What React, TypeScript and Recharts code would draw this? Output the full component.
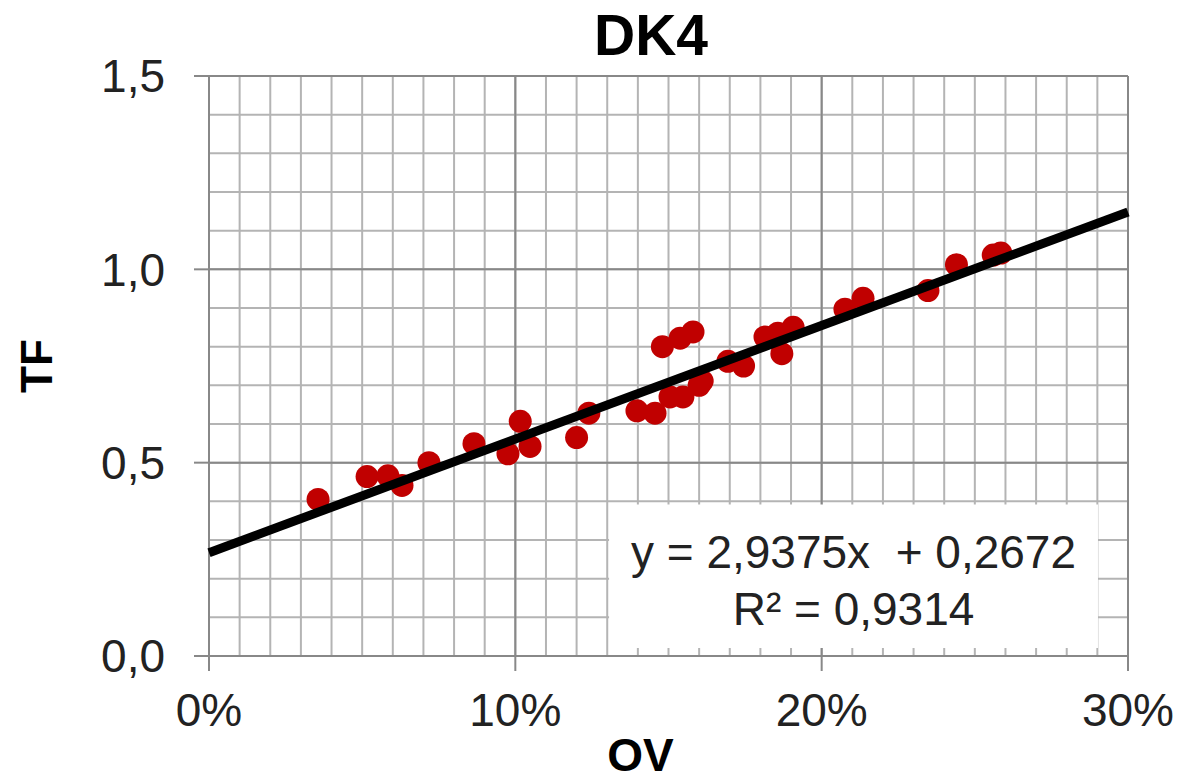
import React from 'react';
import {
  ScatterChart,
  Scatter,
  XAxis,
  YAxis,
  CartesianGrid,
  ReferenceArea,
  Customized
} from 'recharts';

// OV (fraction) and TF readings, one per point
const ovValues = [
  0.0356, 0.0516, 0.0584, 0.063, 0.0718, 0.0865, 0.0976, 0.1016, 0.1048,
  0.12, 0.124, 0.1397, 0.1456, 0.148, 0.1538, 0.158, 0.1505, 0.1547, 0.16,
  0.161, 0.1694, 0.1745, 0.1815, 0.187, 0.1857, 0.1907, 0.2076, 0.2135,
  0.2347, 0.244, 0.256, 0.2585
];
const tfValues = [
  0.405, 0.464, 0.466, 0.441, 0.5, 0.549, 0.523, 0.607, 0.542,
  0.565, 0.628, 0.634, 0.628, 0.8, 0.822, 0.838, 0.67, 0.67, 0.7,
  0.711, 0.762, 0.75, 0.825, 0.782, 0.835, 0.85, 0.897, 0.925,
  0.945, 1.012, 1.037, 1.042
];

// trend line ends, as printed by the fit y = 2,9375x + 0,2672
const trendX = [0, 0.3];
const trendY = [0.2672, 1.1485];
const equationLines = ['y = 2,9375x  + 0,2672', 'R² = 0,9314'];

const xTicks = [0, 0.1, 0.2, 0.3];
const yTicks = [0, 0.5, 1.0, 1.5];
const xMinor = Array.from({ length: 31 }, (_, i) => i / 100);
const yMinor = Array.from({ length: 16 }, (_, i) => i / 10);

const points = ovValues.map((ov, i) => ({ ov, tf: tfValues[i] }));
const trend = trendX.map((ov, i) => ({ ov, tf: trendY[i] }));

const FONT = '"Liberation Sans", Arial, sans-serif';
const GRID_MINOR = '#b4b4b4';
const GRID_MAJOR = '#888888';
const TEXT = '#222222';

const Dot = (props: any) => (
  <circle cx={props.cx} cy={props.cy} r={11.5} fill="#c00000" />
);
const NoDot = () => <g />;

export default function App() {
  return (
    <div style={{ position: 'absolute', left: 0, top: 0, background: '#fff' }}>
      <ScatterChart
        width={1183}
        height={783}
        margin={{ top: 76, right: 55, bottom: 0, left: 0 }}
        style={{ fontFamily: FONT }}
      >
        <CartesianGrid
          stroke={GRID_MINOR}
          strokeWidth={2}
          horizontalValues={yMinor}
          verticalValues={xMinor}
        />
        <CartesianGrid
          stroke={GRID_MAJOR}
          strokeWidth={2}
          fill="none"
          horizontalValues={[0.5, 1.0, 1.5]}
          verticalValues={[0.1, 0.2, 0.3]}
        />
        <XAxis
          type="number"
          dataKey="ov"
          domain={[0, 0.3]}
          ticks={xTicks}
          height={127}
          tickSize={15}
          tickMargin={22}
          axisLine={{ stroke: GRID_MAJOR, strokeWidth: 2 }}
          tickLine={{ stroke: GRID_MAJOR, strokeWidth: 2 }}
          tick={{ fill: TEXT, fontSize: 46, fontFamily: FONT }}
          tickFormatter={(v: number) => `${Math.round(v * 100)}%`}
          interval={0}
          label={{
            content: (p: any) => (
              <text
                x={p.viewBox.x + p.viewBox.width / 2 - 28}
                y={p.viewBox.y + 115}
                textAnchor="middle"
                fontSize={46}
                fontWeight="bold"
                fontFamily={FONT}
                fill="#000"
              >
                OV
              </text>
            )
          }}
        />
        <YAxis
          type="number"
          dataKey="tf"
          domain={[0, 1.5]}
          ticks={yTicks}
          width={209}
          tickSize={15}
          tickMargin={29}
          axisLine={{ stroke: GRID_MAJOR, strokeWidth: 2 }}
          tickLine={{ stroke: GRID_MAJOR, strokeWidth: 2 }}
          tick={{ fill: TEXT, fontSize: 46, fontFamily: FONT }}
          tickFormatter={(v: number) => v.toFixed(1).replace('.', ',')}
          interval={0}
          label={{
            content: (p: any) => (
              <text
                x={52}
                y={p.viewBox.y + p.viewBox.height / 2}
                transform={`rotate(-90 52 ${p.viewBox.y + p.viewBox.height / 2})`}
                textAnchor="middle"
                fontSize={44}
                fontWeight="bold"
                fontFamily={FONT}
                fill="#000"
              >
                TF
              </text>
            )
          }}
        />
        <ReferenceArea
          x1={0.1306}
          x2={0.2902}
          y1={0.021}
          y2={0.392}
          fill="#fff"
          fillOpacity={1}
          stroke="none"
          label={{
            content: (p: any) => {
              const cx = p.viewBox.x + p.viewBox.width / 2;
              return (
                <g
                  fontFamily={FONT}
                  fontSize={46}
                  fill={TEXT}
                  textAnchor="middle"
                  style={{ whiteSpace: 'pre' }}
                >
                  <text x={cx} y={p.viewBox.y + 64} xmlSpace="preserve">{equationLines[0]}</text>
                  <text x={cx} y={p.viewBox.y + 121}>{equationLines[1]}</text>
                </g>
              );
            }
          }}
        />
        <Scatter
          data={points}
          fill="#c00000"
          shape={Dot}
          isAnimationActive={false}
        />
        <Scatter
          data={trend}
          shape={NoDot}
          line={{ stroke: '#000', strokeWidth: 9 }}
          isAnimationActive={false}
        />
        <Customized
          component={() => (
            <text
              x={651}
              y={55}
              textAnchor="middle"
              fontSize={57}
              fontWeight="bold"
              fontFamily={FONT}
              fill="#000"
            >
              DK4
            </text>
          )}
        />
      </ScatterChart>
    </div>
  );
}
